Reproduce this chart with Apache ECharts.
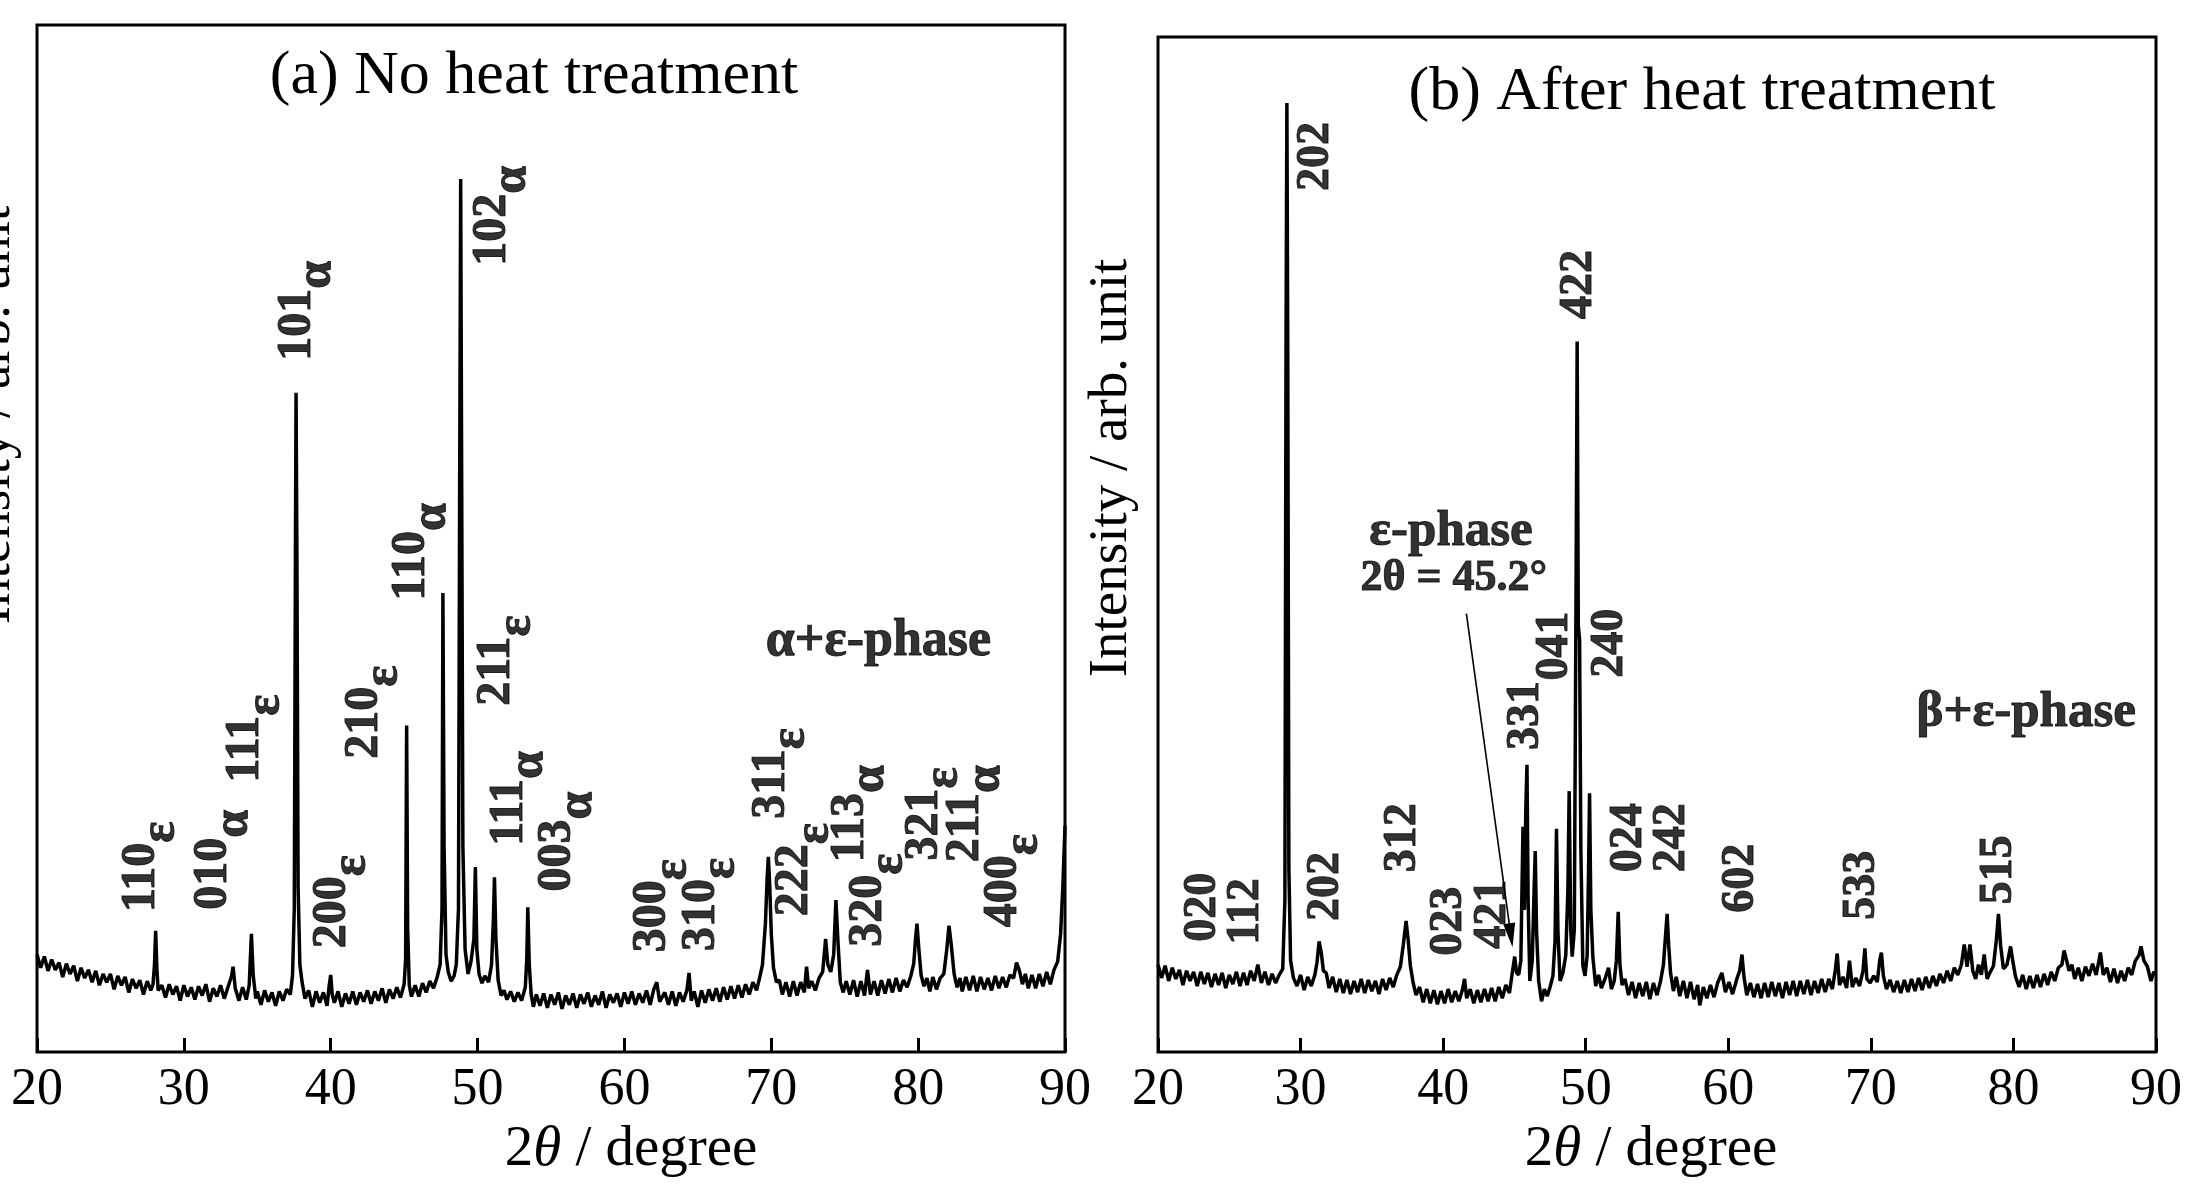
<!DOCTYPE html>
<html><head><meta charset="utf-8">
<script src="https://cdn.jsdelivr.net/npm/echarts@6/dist/echarts.min.js"></script>
<style>html,body{margin:0;padding:0;background:#fff}#c{width:2185px;height:1188px}</style>
</head><body><div id="c"></div>
<script>
// ---------- DATA ----------
// (a) No heat treatment: [2theta, intensity]
const patternA = [
[20,9.5],[20.25,8.2],[20.5,9.3],[20.75,7.9],[21,9.0],[21.25,8.0],[21.5,8.7],[21.75,7.3],[22,8.6],[22.25,7.6],[22.5,8.4],[22.75,6.9],[23,8.2],[23.25,7.2],[23.5,8.0],[23.75,6.8],[24,7.9],[24.25,6.5],[24.5,7.6],[24.75,6.8],[25,7.6],[25.25,6.1],[25.5,7.4],[25.75,6.5],[26,7.3],[26.25,5.8],[26.5,7.1],[26.75,6.2],[27,7.0],[27.25,5.6],[27.5,6.9],[27.75,6.0],[27.9,6.6],[28,8.5],[28.08,11.8],[28.16,8.2],[28.25,6.0],[28.5,6.5],[28.75,5.3],[29,6.6],[29.25,5.6],[29.5,6.4],[29.75,5.0],[30,6.5],[30.25,5.4],[30.5,6.3],[30.75,5.1],[31,6.4],[31.25,5.5],[31.5,6.6],[31.75,4.9],[32,6.2],[32.25,5.4],[32.5,6.5],[32.75,5.2],[33,6.3],[33.25,7.4],[33.35,8.3],[33.5,6.2],[33.75,5.0],[34,6.3],[34.25,5.1],[34.45,6.5],[34.6,11.5],[34.72,7.5],[34.9,5.2],[35,5.9],[35.25,4.6],[35.5,6.0],[35.75,4.9],[36,5.8],[36.25,4.5],[36.5,5.9],[36.75,5.0],[37,6.1],[37.25,5.6],[37.4,7.5],[37.52,14],[37.6,50],[37.64,64.2],[37.7,48],[37.78,16],[37.9,8.5],[38.05,6.8],[38.25,5.2],[38.5,6.0],[38.75,4.4],[39,5.9],[39.25,4.8],[39.5,5.8],[39.75,4.5],[39.9,6.5],[40,7.5],[40.1,5.6],[40.25,4.8],[40.5,5.9],[40.75,4.4],[41,5.7],[41.25,4.7],[41.5,5.9],[41.75,4.6],[42,5.8],[42.25,4.9],[42.5,6.0],[42.75,4.7],[43,5.9],[43.25,5.0],[43.5,6.2],[43.75,4.8],[44,6.1],[44.25,5.2],[44.5,6.3],[44.75,5.3],[45,6.6],[45.1,9],[45.17,31.8],[45.24,12],[45.35,6.5],[45.5,5.4],[45.75,6.5],[46,5.4],[46.25,6.7],[46.5,5.8],[46.75,6.9],[47,6.2],[47.25,7.3],[47.45,8.5],[47.58,14],[47.64,44.7],[47.72,20],[47.85,9.5],[48,7.8],[48.2,6.9],[48.4,7.4],[48.55,8.5],[48.7,14],[48.78,55],[48.85,85.0],[48.92,55],[49,20],[49.15,10],[49.35,7.6],[49.55,8.8],[49.75,11],[49.85,18.0],[49.95,10],[50.1,7.6],[50.3,6.7],[50.5,7.4],[50.75,6.8],[50.95,8.5],[51.08,13],[51.15,17.0],[51.25,11],[51.4,7.0],[51.6,5.5],[51.8,6.0],[52,5.1],[52.25,5.9],[52.5,4.9],[52.75,5.8],[53,5.0],[53.25,6.3],[53.35,9],[53.42,14.1],[53.52,8.5],[53.65,5.6],[53.8,4.4],[54,5.6],[54.25,4.5],[54.5,5.7],[54.75,4.3],[55,5.6],[55.25,4.6],[55.5,5.8],[55.75,4.2],[56,5.5],[56.25,4.6],[56.5,5.7],[56.75,4.3],[57,5.6],[57.25,4.7],[57.5,5.8],[57.75,4.4],[58,5.5],[58.25,4.6],[58.5,5.9],[58.75,4.3],[59,5.6],[59.25,4.8],[59.5,5.7],[59.75,4.4],[60,5.8],[60.25,4.7],[60.5,5.9],[60.75,4.6],[61,5.7],[61.25,4.8],[61.5,6.0],[61.75,4.6],[62,6.1],[62.2,6.8],[62.4,4.9],[62.75,5.8],[63,4.6],[63.25,5.9],[63.5,4.5],[63.75,5.8],[64,4.9],[64.25,6.0],[64.4,7.7],[64.55,5.0],[64.75,5.9],[65,4.4],[65.25,6.0],[65.5,4.8],[65.75,6.1],[66,5.0],[66.25,6.2],[66.5,4.9],[66.75,6.3],[67,5.1],[67.25,6.4],[67.5,5.2],[67.75,6.5],[68,5.3],[68.25,6.6],[68.5,5.6],[68.75,6.8],[69,6.0],[69.2,7.2],[69.4,8.5],[69.6,12.5],[69.72,17],[69.8,19.0],[69.9,16],[70,11.5],[70.15,8.2],[70.35,6.8],[70.55,7.0],[70.75,5.6],[71,6.8],[71.25,5.4],[71.5,6.9],[71.75,5.5],[72,6.8],[72.25,5.8],[72.4,8.3],[72.55,6.2],[72.75,6.9],[73,6.0],[73.25,7.2],[73.5,7.8],[73.7,11.0],[73.85,8.5],[74.05,7.8],[74.25,9.5],[74.4,14.8],[74.55,10.5],[74.7,6.8],[74.9,5.8],[75.1,6.9],[75.35,5.6],[75.6,7.0],[75.85,5.4],[76.1,6.9],[76.35,5.5],[76.55,8.0],[76.75,5.6],[77,6.9],[77.25,5.5],[77.5,7.0],[77.75,5.7],[78,7.1],[78.25,5.8],[78.5,7.2],[78.75,5.9],[79,7.0],[79.25,6.3],[79.5,7.4],[79.7,8.6],[79.82,11],[79.92,12.5],[80.05,10],[80.2,7.5],[80.4,6.4],[80.6,7.2],[80.8,5.9],[81,7.3],[81.25,6.1],[81.5,7.2],[81.75,7.6],[81.95,10],[82.1,12.3],[82.25,10.5],[82.45,7.6],[82.65,6.3],[82.85,7.2],[83,5.9],[83.25,7.3],[83.5,6.0],[83.75,7.4],[84,5.9],[84.25,7.3],[84.5,6.1],[84.75,7.2],[85,6.0],[85.25,7.4],[85.5,6.2],[85.75,7.3],[86,6.3],[86.25,7.5],[86.5,7.2],[86.7,8.7],[86.9,7.9],[87.1,6.6],[87.3,7.6],[87.5,6.2],[87.75,7.5],[88,6.2],[88.25,7.6],[88.5,6.4],[88.75,7.8],[89,6.6],[89.25,8.0],[89.5,8.8],[89.7,11.5],[89.85,16],[90,22.0]
];
// (b) After heat treatment: [2theta, intensity]
const patternB = [
[20,8.6],[20.25,7.3],[20.5,8.5],[20.75,7.0],[21,8.3],[21.25,7.2],[21.5,8.1],[21.75,6.6],[22,8.0],[22.25,7.0],[22.5,7.9],[22.75,6.5],[23,7.9],[23.25,6.7],[23.5,7.8],[23.75,6.4],[24,7.7],[24.25,6.6],[24.5,7.8],[24.75,6.3],[25,7.6],[25.25,6.7],[25.5,7.9],[25.75,6.5],[26,7.8],[26.25,6.6],[26.5,8.0],[26.75,7.0],[27,8.6],[27.25,6.8],[27.5,7.9],[27.75,6.6],[28,7.7],[28.25,6.8],[28.5,7.6],[28.75,8.2],[28.9,15],[28.98,70],[29.04,93.5],[29.1,70],[29.18,18],[29.3,9],[29.5,7.3],[29.75,6.5],[30,7.6],[30.25,6.1],[30.5,7.4],[30.75,6.5],[31,7.6],[31.15,8.8],[31.3,10.9],[31.45,9.8],[31.6,8.0],[31.8,7.8],[32,6.3],[32.25,7.4],[32.5,5.9],[32.75,7.2],[33,5.8],[33.25,7.1],[33.5,5.7],[33.75,7.0],[34,5.9],[34.25,7.2],[34.5,5.8],[34.75,7.1],[35,6.0],[35.25,7.0],[35.5,5.7],[35.75,7.2],[36,6.1],[36.25,7.3],[36.5,6.4],[36.75,7.6],[37,8.4],[37.2,10.5],[37.4,12.9],[37.55,11.0],[37.7,8.5],[37.9,6.8],[38.1,5.6],[38.35,6.4],[38.6,4.9],[38.85,6.2],[39.1,4.8],[39.35,6.1],[39.6,4.7],[39.85,6.0],[40.1,4.8],[40.35,6.2],[40.6,4.9],[40.85,6.0],[41.1,5.0],[41.35,6.1],[41.5,7.2],[41.65,5.3],[41.9,6.2],[42.15,4.8],[42.4,6.1],[42.65,4.9],[42.9,6.2],[43.15,5.0],[43.4,6.3],[43.65,5.0],[43.9,6.4],[44.15,5.3],[44.4,6.6],[44.65,5.8],[44.85,7.8],[45.02,9.4],[45.15,7.8],[45.3,7.6],[45.45,9],[45.6,22.2],[45.7,14],[45.8,24],[45.88,28.3],[45.96,15],[46.08,7.0],[46.25,9.0],[46.38,16],[46.46,19.8],[46.55,12],[46.7,7.0],[46.9,5.0],[47.1,6.2],[47.3,5.5],[47.5,6.4],[47.7,7.5],[47.85,11],[47.95,22.0],[48.05,12],[48.2,7.0],[48.4,7.8],[48.6,9.5],[48.75,16],[48.84,25.7],[48.95,12],[49.05,9.4],[49.2,12],[49.32,45],[49.4,70.0],[49.48,42],[49.57,40.6],[49.66,20],[49.8,8.5],[49.95,7.5],[50.1,9.5],[50.2,18],[50.27,25.5],[50.36,14],[50.5,9.4],[50.7,6.5],[50.9,7.6],[51.1,6.3],[51.35,7.2],[51.6,8.3],[51.8,6.2],[52,7.0],[52.15,9.0],[52.28,13.8],[52.4,8.6],[52.55,6.6],[52.75,7.2],[53,5.6],[53.25,6.9],[53.5,5.3],[53.75,6.8],[54,5.5],[54.25,6.9],[54.5,5.2],[54.75,6.8],[55,5.6],[55.25,7.0],[55.45,8.6],[55.6,11.5],[55.71,13.6],[55.82,10.5],[55.95,7.8],[56.15,6.0],[56.35,7.4],[56.6,5.5],[56.85,7.0],[57.1,5.3],[57.35,6.9],[57.6,5.2],[57.85,6.6],[58,4.6],[58.25,6.4],[58.5,5.3],[58.75,6.6],[59,5.4],[59.25,6.8],[59.55,7.8],[59.8,5.9],[60.05,6.9],[60.3,5.7],[60.6,7.2],[60.8,8.0],[60.96,9.6],[61.1,7.4],[61.3,5.6],[61.55,6.8],[61.8,5.4],[62.05,6.7],[62.3,5.3],[62.55,6.8],[62.8,5.4],[63.05,6.9],[63.3,5.5],[63.55,6.8],[63.8,5.3],[64.05,6.9],[64.3,5.6],[64.55,7.0],[64.8,5.5],[65.05,7.0],[65.3,5.7],[65.55,7.1],[65.8,5.6],[66.05,7.0],[66.3,5.8],[66.55,7.2],[66.8,5.9],[67.05,7.2],[67.3,6.2],[67.5,8.0],[67.64,9.7],[67.8,6.6],[68.05,7.4],[68.3,6.3],[68.5,9.0],[68.7,6.4],[68.95,7.3],[69.2,6.5],[69.45,8.0],[69.58,10.2],[69.72,7.2],[69.95,6.8],[70.2,7.5],[70.45,6.9],[70.62,9.0],[70.74,9.8],[70.88,7.5],[71.1,6.2],[71.35,7.1],[71.6,5.9],[71.85,7.0],[72.1,5.8],[72.35,7.1],[72.6,5.9],[72.85,7.2],[73.1,6.0],[73.35,7.3],[73.6,6.1],[73.85,7.4],[74.1,6.3],[74.35,7.5],[74.6,6.5],[74.85,7.7],[75.1,6.8],[75.35,8.0],[75.6,7.0],[75.85,8.3],[76.1,7.6],[76.35,8.6],[76.55,10.6],[76.75,8.4],[76.95,10.6],[77.15,8.0],[77.35,7.2],[77.55,8.6],[77.75,7.6],[77.95,9.6],[78.15,7.2],[78.35,7.8],[78.6,8.5],[78.8,11.0],[78.95,13.6],[79.1,10.5],[79.3,8.2],[79.55,8.6],[79.8,10.4],[79.95,9.0],[80.15,7.4],[80.4,6.4],[80.65,7.6],[80.9,6.2],[81.15,7.5],[81.4,6.3],[81.65,7.6],[81.9,6.4],[82.15,7.7],[82.4,6.6],[82.65,7.9],[82.9,7.0],[83.15,8.3],[83.4,8.6],[83.55,10.0],[83.7,9.2],[83.9,8.0],[84.1,8.6],[84.3,7.2],[84.55,8.3],[84.8,7.0],[85.05,8.4],[85.3,7.5],[85.55,8.7],[85.8,7.6],[86,9.0],[86.1,9.8],[86.3,7.6],[86.55,8.3],[86.8,6.9],[87.05,8.2],[87.3,6.8],[87.55,8.0],[87.8,7.0],[88.05,8.3],[88.3,7.6],[88.55,9.0],[88.8,9.5],[88.95,10.4],[89.15,9.0],[89.4,8.4],[89.65,7.0],[89.85,7.9],[90,7.6]
];
// Peak labels (a): [index, phase subscript, 2theta, intensity]
const peakLabelsA = [
['110','ε',27.11,18.05],['010','α',32.05,18.72],['111','ε',34.23,30.53],['101','α',37.74,72.18],
['200','ε',40.11,14.65],['210','ε',42.29,33.11],['110','α',45.51,48.71],['102','α',51.02,81.41],
['211','ε',51.30,38.13],['111','α',52.15,24.69],['003','α',55.47,20.49],['300','ε',61.92,14.25],
['310','ε',65.24,14.38],['311','ε',69.99,27.14],['222','ε',71.60,17.77],['113','α',75.39,23.20],
['320','ε',76.63,14.79],['321','ε',80.42,23.20],['211','α',83.26,23.20],['400','ε',85.83,16.69]
];
// Peak labels (b): [index, 2theta, intensity]
const peakLabelsB = [
['020',23.18,14.25],['112',26.17,13.84],['202',31.09,88.22],['202',31.76,16.30],['312',37.16,21.10],
['023',40.44,12.88],['421',43.53,13.56],['331',45.84,33.15],['041',47.87,40.00],['422',49.51,75.62],
['240',51.72,40.27],['024',53.07,21.10],['242',56.06,21.10],['602',60.88,17.12],['533',69.37,16.44],
['515',79.01,17.95]
];
// Phase notes: [text, 2theta, intensity]
const notesA = [['α+ε-phase',77.3,40.0]];
const notesB = [['β+ε-phase',80.9,33.4]];
const notesB2 = [['ε-phase',40.55,51.2],['2θ = 45.2°',40.75,46.6]];
const arrowB = [[41.63,43.2],[44.75,11.5]];
const xTickLabels = ['20','30','40','50','60','70','80','90'];
const panelTitles = ['(a) No heat treatment','(b) After heat treatment'];

// ---------- CHART ----------
const SERIF = '"Liberation Serif","Times New Roman",serif';
const chart = echarts.init(document.getElementById('c'), null, {renderer:'canvas'});

function xAxisFor(i){
  return {gridIndex:i, type:'value', min:20, max:90, interval:10,
    axisLine:{show:false},
    axisTick:{show:true, inside:true, length:14, lineStyle:{color:'#000', width:3}},
    axisLabel:{show:true, margin:12, color:'#000', fontFamily:SERIF, fontSize:52,
      formatter:v=>xTickLabels[Math.round((v-20)/10)]},
    splitLine:{show:false}};
}
function yAxisFor(i){
  return {gridIndex:i, type:'value', min:0, max:100, show:false};
}
const BOLD = {fontFamily:SERIF, fontWeight:'bold', color:'#000', textBorderColor:'#000', textBorderWidth:1};
const subRich = {
  n:Object.assign({fontSize:48, lineHeight:48, verticalAlign:'middle'}, BOLD),
  s:Object.assign({fontSize:50, lineHeight:50, padding:[40,0,0,0]}, BOLD)
};
function noteSeries(axis, data, size){
  return {type:'scatter', xAxisIndex:axis, yAxisIndex:axis, symbolSize:1, itemStyle:{color:'rgba(0,0,0,0)'}, z:5,
    data:data.map(d=>({value:[d[1],d[2]], t:d[0]})),
    label:Object.assign({show:true, position:'inside', formatter:p=>p.data.t, fontSize:size}, BOLD)};
}
const option = {
  animation:false,
  backgroundColor:'#fff',
  grid:[
    {left:37, top:25, width:1028, height:1027, show:true, borderColor:'#000', borderWidth:3, backgroundColor:'transparent'},
    {left:1158, top:37, width:1015, height:1015, show:true, borderColor:'#000', borderWidth:3, backgroundColor:'transparent'}
  ],
  xAxis:[xAxisFor(0), xAxisFor(1)],
  yAxis:[yAxisFor(0), yAxisFor(1)],
  series:[
    {type:'line', xAxisIndex:0, yAxisIndex:0, data:patternA, showSymbol:false, symbol:'none',
      lineStyle:{color:'#000', width:3.5}, clip:true, z:2},
    {type:'line', xAxisIndex:1, yAxisIndex:1, data:patternB, showSymbol:false, symbol:'none',
      lineStyle:{color:'#000', width:3.5}, clip:true, z:2,
      markLine:{silent:true, animation:false, symbol:['none','triangle'], symbolSize:[12,24],
        lineStyle:{color:'#000', width:1.6, type:'solid'}, label:{show:false},
        data:[[{coord:arrowB[0]},{coord:arrowB[1]}]]}},
    {type:'scatter', xAxisIndex:0, yAxisIndex:0, symbolSize:1, itemStyle:{color:'rgba(0,0,0,0)'}, z:5,
      data:peakLabelsA.map(d=>({value:[d[2],d[3]], t:d[0], s:d[1]})),
      label:{show:true, position:'inside', rotate:90, formatter:p=>'{n|'+p.data.t+'}{s|'+p.data.s+'}', rich:subRich}},
    {type:'scatter', xAxisIndex:1, yAxisIndex:1, symbolSize:1, itemStyle:{color:'rgba(0,0,0,0)'}, z:5,
      data:peakLabelsB.map(d=>({value:[d[1],d[2]], t:d[0]})),
      label:Object.assign({show:true, position:'inside', rotate:90, formatter:p=>p.data.t, fontSize:46}, BOLD)},
    noteSeries(0, notesA, 52),
    noteSeries(1, notesB, 51),
    noteSeries(1, notesB2.slice(0,1), 51),
    noteSeries(1, notesB2.slice(1), 44)
  ],
  graphic:[
    {type:'text', x:534, y:77, style:{text:panelTitles[0], fontFamily:SERIF, fontSize:62, fill:'#000', align:'center', verticalAlign:'middle'}},
    {type:'text', x:1702, y:93, style:{text:panelTitles[1], fontFamily:SERIF, fontSize:62, fill:'#000', align:'center', verticalAlign:'middle'}},
    {type:'text', x:631, y:1150, style:{text:'{r|2}{i|θ}{r| / degree}', align:'center', verticalAlign:'middle', fill:'#000',
      rich:{r:{fontFamily:SERIF, fontSize:57, fill:'#000'}, i:{fontFamily:SERIF, fontSize:57, fontStyle:'italic', fill:'#000'}}}},
    {type:'text', x:1651, y:1150, style:{text:'{r|2}{i|θ}{r| / degree}', align:'center', verticalAlign:'middle', fill:'#000',
      rich:{r:{fontFamily:SERIF, fontSize:57, fill:'#000'}, i:{fontFamily:SERIF, fontSize:57, fontStyle:'italic', fill:'#000'}}}},
    {type:'text', x:-5, y:415, rotation:Math.PI/2, style:{text:'Intensity / arb. unit', fontFamily:SERIF, fontSize:55, fill:'#000', align:'center', verticalAlign:'middle'}},
    {type:'text', x:1112, y:468, rotation:Math.PI/2, style:{text:'Intensity / arb. unit', fontFamily:SERIF, fontSize:55, fill:'#000', align:'center', verticalAlign:'middle'}}
  ]
};
chart.setOption(option);
</script>
</body></html>
